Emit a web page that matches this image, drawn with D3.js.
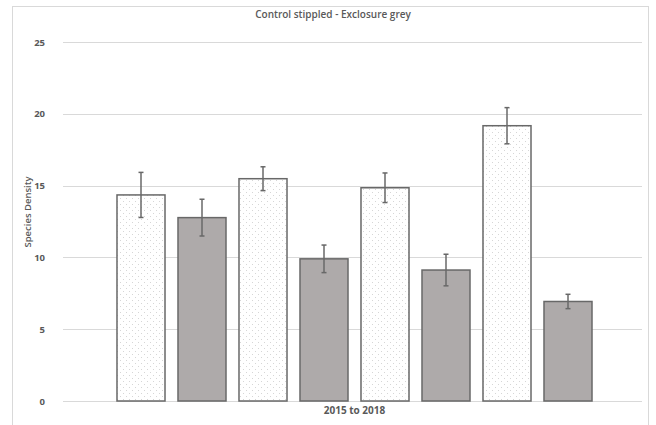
<!DOCTYPE html>
<html>
<head>
<meta charset="utf-8">
<script src="https://cdn.jsdelivr.net/npm/d3@7"></script>
<style>
  body { margin: 0; background: #fff; }
  svg { display: block; }
</style>
</head>
<body>
<div id="chart"></div>
<script>
// Data
const category = "2015 to 2018";
const series = ["C1", "E1", "C2", "E2", "C3", "E3", "C4", "E4"];
const groups = ["control", "exclosure", "control", "exclosure", "control", "exclosure", "control", "exclosure"];
const values = [14.35, 12.77, 15.48, 9.9, 14.85, 9.12, 19.17, 6.93];
const errors = [1.57, 1.28, 0.83, 0.96, 1.03, 1.1, 1.26, 0.5];
const yTicks = [0, 5, 10, 15, 20, 25];

const width = 656, height = 425;
const plot = { left: 63, right: 642, top: 42, bottom: 401 };
const font = "'Open Sans', sans-serif";

const svg = d3.select("#chart").append("svg")
    .attr("width", width)
    .attr("height", height);

// Stipple pattern for control bars
const defs = svg.append("defs");
const pat = defs.append("pattern")
    .attr("id", "stipple")
    .attr("patternUnits", "userSpaceOnUse")
    .attr("width", 6)
    .attr("height", 6);
pat.append("rect").attr("width", 6).attr("height", 6).attr("fill", "#ffffff");
pat.append("rect").attr("x", 0).attr("y", 0).attr("width", 1).attr("height", 1).attr("fill", "#d6d6d6");
pat.append("rect").attr("x", 3).attr("y", 3).attr("width", 1).attr("height", 1).attr("fill", "#d6d6d6");

// Chart border
svg.append("rect")
    .attr("x", 12.5).attr("y", 6.5)
    .attr("width", 636).attr("height", 430)
    .attr("fill", "none")
    .attr("stroke", "#d9d9d9");

const y = d3.scaleLinear().domain([0, 25]).range([plot.bottom, plot.top]);

const x0 = d3.scaleBand().domain([category]).range([plot.left, plot.right]);
const x1 = d3.scaleBand()
    .domain(series)
    .range([110.5, 598.5])
    .paddingInner(0.213)
    .paddingOuter(0.1065);

// Gridlines
svg.append("g")
    .selectAll("line")
    .data(yTicks)
    .join("line")
    .attr("x1", plot.left)
    .attr("x2", plot.right)
    .attr("y1", d => Math.round(y(d)) + 0.5)
    .attr("y2", d => Math.round(y(d)) + 0.5)
    .attr("stroke", "#d9d9d9")
    .attr("stroke-width", 1);

// Y tick labels
svg.append("g")
    .selectAll("text")
    .data(yTicks)
    .join("text")
    .attr("x", 45)
    .attr("y", d => y(d))
    .attr("text-anchor", "end")
    .attr("dominant-baseline", "central")
    .style("font-family", font)
    .style("font-size", "9.5px")
    .style("font-weight", "700")
    .style("fill", "#595959")
    .text(d => d);

// Bars
svg.append("g")
    .selectAll("rect")
    .data(series)
    .join("rect")
    .attr("x", d => x1(d))
    .attr("y", (d, i) => y(values[i]))
    .attr("width", x1.bandwidth())
    .attr("height", (d, i) => y(0) - y(values[i]))
    .attr("fill", (d, i) => groups[i] === "control" ? "url(#stipple)" : "#aeaaaa")
    .attr("stroke", "#686868")
    .attr("stroke-width", 1.5);

// Error bars
const eb = svg.append("g")
    .attr("stroke", "#686868")
    .attr("stroke-width", 1.5);
series.forEach((s, i) => {
    const cx = x1(s) + x1.bandwidth() / 2;
    const hi = y(values[i] + errors[i]);
    const lo = y(values[i] - errors[i]);
    eb.append("line").attr("x1", cx).attr("x2", cx).attr("y1", hi).attr("y2", lo);
    eb.append("line").attr("x1", cx - 2.5).attr("x2", cx + 2.5).attr("y1", hi).attr("y2", hi);
    eb.append("line").attr("x1", cx - 2.5).attr("x2", cx + 2.5).attr("y1", lo).attr("y2", lo);
});

// Category label
svg.append("text")
    .attr("x", x0(category) + x0.bandwidth() / 2 + 2)
    .attr("y", 414)
    .attr("text-anchor", "middle")
    .style("font-family", font)
    .style("font-size", "10px")
    .style("font-weight", "700")
    .style("fill", "#595959")
    .text(category);

// Title
svg.append("text")
    .attr("x", 333)
    .attr("y", 18)
    .attr("text-anchor", "middle")
    .style("font-family", font)
    .style("font-size", "10px")
    .style("font-weight", "600")
    .style("fill", "#595959")
    .text("Control stippled - Exclosure grey");

// Y axis title
svg.append("text")
    .attr("transform", "translate(31,212) rotate(-90)")
    .attr("text-anchor", "middle")
    .style("font-family", font)
    .style("font-size", "9.5px")
    .style("font-weight", "600")
    .style("fill", "#595959")
    .text("Species Density");
</script>
</body>
</html>
